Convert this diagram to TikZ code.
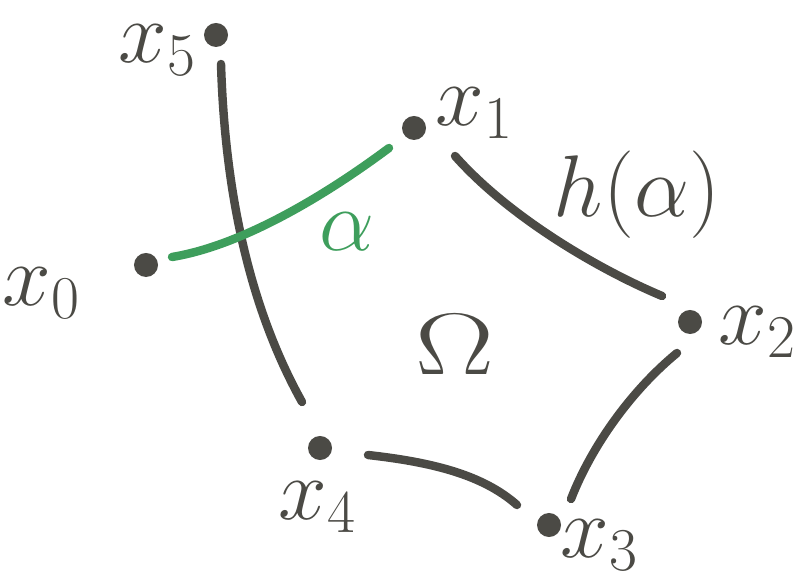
\documentclass[tikz,border=0pt]{standalone}
\begin{document}
\begin{tikzpicture}[x=0.01cm,y=-0.01cm,
  ink/.style={draw=inkc,line width=2.4pt,line cap=round},
  gink/.style={draw=greenc,line width=2.4pt,line cap=round},
  pt/.style={circle,fill=inkc,inner sep=0pt,minimum size=0.24cm},
  lab/.style={text=inkc,inner sep=0pt,font=\fontsize{24}{28}\selectfont}]
\definecolor{inkc}{HTML}{4B4A45}
\definecolor{greenc}{HTML}{3E9E5C}
\useasboundingbox (0,0) rectangle (795,580);
% points
\node[pt] (p5) at (216,35) {};
\node[pt] (p1) at (414,128) {};
\node[pt] (p0) at (146,265) {};
\node[pt] (p2) at (690,322) {};
\node[pt] (p4) at (320,448) {};
\node[pt] (p3) at (549,525) {};
% labels
\node[lab] (l5) at (158,50) {$x_5$};
\node[lab] (l1) at (475,113) {$x_1$};
\node[lab] (l0) at (42,293) {$x_0$};
\node[lab] (l2) at (758,332) {$x_2$};
\node[lab] (l4) at (318,507) {$x_4$};
\node[lab] (l3) at (600,545) {$x_3$};
\node[lab] (lh) at (637,195) {$h(\alpha)$};
\node[text=greenc,font=\fontsize{30}{34}\selectfont] (la) at (347,232) {$\alpha$};
\node[text=inkc,font=\fontsize{34}{40}\selectfont,xscale=1.35] (om) at (455,345) {$\Omega$};
% curve endpoints
\coordinate (a1) at (221,64);  \coordinate (a2) at (302,402);
\coordinate (g1) at (172,257); \coordinate (g2) at (389,148);
\coordinate (b1) at (455,156); \coordinate (b2) at (662,296);
\coordinate (c1) at (677,353); \coordinate (c2) at (571,499);
\coordinate (d1) at (368,455); \coordinate (d2) at (517,505);
% curves
\draw[ink] (a1) .. controls (226,225) and (262,330) .. (a2);
\draw[gink] (g1) .. controls (245,245) and (330,192) .. (g2);
\draw[ink] (b1) .. controls (510,218) and (600,270) .. (b2);
\draw[ink] (c1) .. controls (632,390) and (592,445) .. (c2);
\draw[ink] (d1) .. controls (430,462) and (482,474) .. (d2);
\end{tikzpicture}
\end{document}
